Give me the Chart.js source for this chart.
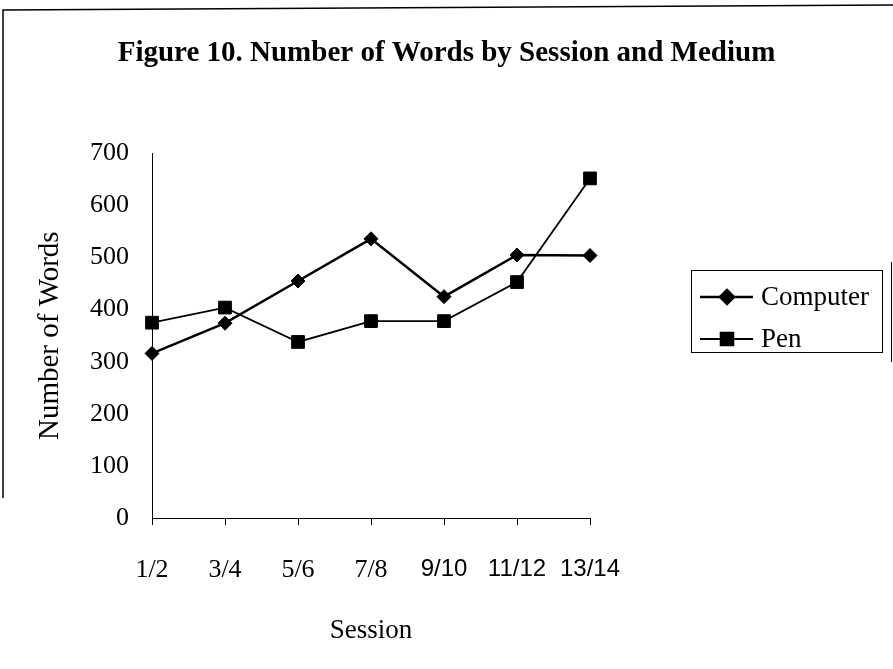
<!DOCTYPE html>
<html>
<head>
<meta charset="utf-8">
<script src="https://cdn.jsdelivr.net/npm/chart.js@4.4.1/dist/chart.umd.min.js"></script>
<style>
  html, body { margin: 0; padding: 0; background: #fff; }
  #wrap { width: 893px; height: 669px; position: relative; }
</style>
</head>
<body>
<div id="wrap"><canvas id="c" width="893" height="669"></canvas></div>
<script>
// ---- data ----
const sessions = ['1/2', '3/4', '5/6', '7/8', '9/10', '11/12', '13/14'];
const computerWords = [316, 374, 455, 536, 425, 505, 504];
const penWords = [375, 404, 338, 378, 378, 453, 652];
const yTicks = [0, 100, 200, 300, 400, 500, 600, 700];
const titleText = 'Figure 10. Number of Words by Session and Medium';
const yTitle = 'Number of Words';
const xTitle = 'Session';
const seriesNames = ['Computer', 'Pen'];

const SERIF = "'Liberation Serif', 'Times New Roman', serif";
const SANS = "'Liberation Sans', Arial, sans-serif";

const framePlugin = {
  id: 'frame',
  beforeDraw(chart) {
    const ctx = chart.ctx;
    ctx.save();
    ctx.fillStyle = '#fff';
    ctx.fillRect(0, 0, chart.width, chart.height);
    ctx.strokeStyle = '#000';
    ctx.lineWidth = 1.5;
    ctx.beginPath();
    ctx.moveTo(3, 498);
    ctx.lineTo(3, 10);
    ctx.lineTo(893, 5);
    ctx.stroke();
    ctx.lineWidth = 1;
    ctx.beginPath();
    ctx.moveTo(891.5, 262);
    ctx.lineTo(891.5, 362);
    ctx.stroke();
    ctx.restore();
  },
  afterDraw(chart) {
    const ctx = chart.ctx;
    const ds = chart.data.datasets;
    ctx.save();
    ctx.strokeStyle = '#000';
    ctx.lineWidth = 1;
    ctx.strokeRect(691.5, 270.5, 191, 82);
    const rows = [297, 339];
    ds.forEach((d, i) => {
      const y = rows[i];
      ctx.strokeStyle = '#000';
      ctx.lineWidth = d.borderWidth;
      ctx.beginPath();
      ctx.moveTo(700, y);
      ctx.lineTo(753, y);
      ctx.stroke();
      ctx.fillStyle = '#000';
      Chart.helpers.drawPoint(ctx, {pointStyle: d.pointStyle, radius: d.pointRadius, borderWidth: 1, rotation: 0}, 727, y);
      ctx.fill();
      ctx.font = '27px ' + SERIF;
      ctx.textBaseline = 'middle';
      ctx.textAlign = 'left';
      ctx.fillText(d.label, 761, y + 1);
    });
    ctx.restore();
  }
};

new Chart(document.getElementById('c'), {
  type: 'line',
  data: {
    labels: sessions,
    datasets: [
      {
        label: seriesNames[0],
        data: computerWords,
        borderColor: '#000',
        backgroundColor: '#000',
        borderWidth: 2.5,
        pointStyle: 'rectRot',
        pointRadius: 7,
        pointBorderWidth: 1,
        tension: 0,
        clip: false
      },
      {
        label: seriesNames[1],
        data: penWords,
        borderColor: '#000',
        backgroundColor: '#000',
        borderWidth: 1.8,
        pointStyle: 'rect',
        pointRadius: 9,
        pointBorderWidth: 1,
        tension: 0,
        clip: false
      }
    ]
  },
  plugins: [framePlugin],
  options: {
    responsive: false,
    animation: false,
    events: [],
    layout: { padding: { top: 0, right: 0, bottom: 0, left: 0 } },
    plugins: {
      legend: { display: false },
      tooltip: { enabled: false },
      title: {
        display: true,
        text: titleText,
        color: '#000',
        font: { family: SERIF, size: 29, weight: 'bold' },
        padding: { top: 36, bottom: 82.6 }
      }
    },
    scales: {
      x: {
        type: 'category',
        offset: false,
        grid: { display: true, drawOnChartArea: false, drawTicks: true, tickLength: 7, color: '#000', lineWidth: 1 },
        border: { display: true, color: '#000', width: 1 },
        ticks: {
          color: '#000',
          padding: 30,
          maxRotation: 0,
          autoSkip: false,
          font: (c) => c.index >= 4 ? { family: SANS, size: 24 } : { family: SERIF, size: 26 }
        },
        title: {
          display: true,
          text: xTitle,
          color: '#000',
          font: { family: SERIF, size: 27 },
          padding: { top: 0, bottom: 22 }
        },
        afterFit: (s) => { s.height = 151; }
      },
      y: {
        min: 0,
        max: 700,
        grid: { display: true, drawOnChartArea: false, drawTicks: false, color: '#000' },
        border: { display: true, color: '#000', width: 1 },
        afterBuildTicks: (s) => { s.ticks = yTicks.map(v => ({ value: v })); },
        ticks: {
          color: '#000',
          padding: 23,
          font: { family: SERIF, size: 26 }
        },
        title: {
          display: true,
          text: yTitle,
          color: '#000',
          font: { family: SERIF, size: 29 },
          padding: { top: 33, bottom: 0 }
        },
        afterFit: (s) => { s.width = 152; }
      },
      spacer: {
        type: 'linear',
        position: 'right',
        display: true,
        grid: { display: false },
        border: { display: false },
        ticks: { display: false },
        afterFit: (s) => { s.width = 303; }
      }
    }
  }
});
</script>
</body>
</html>
